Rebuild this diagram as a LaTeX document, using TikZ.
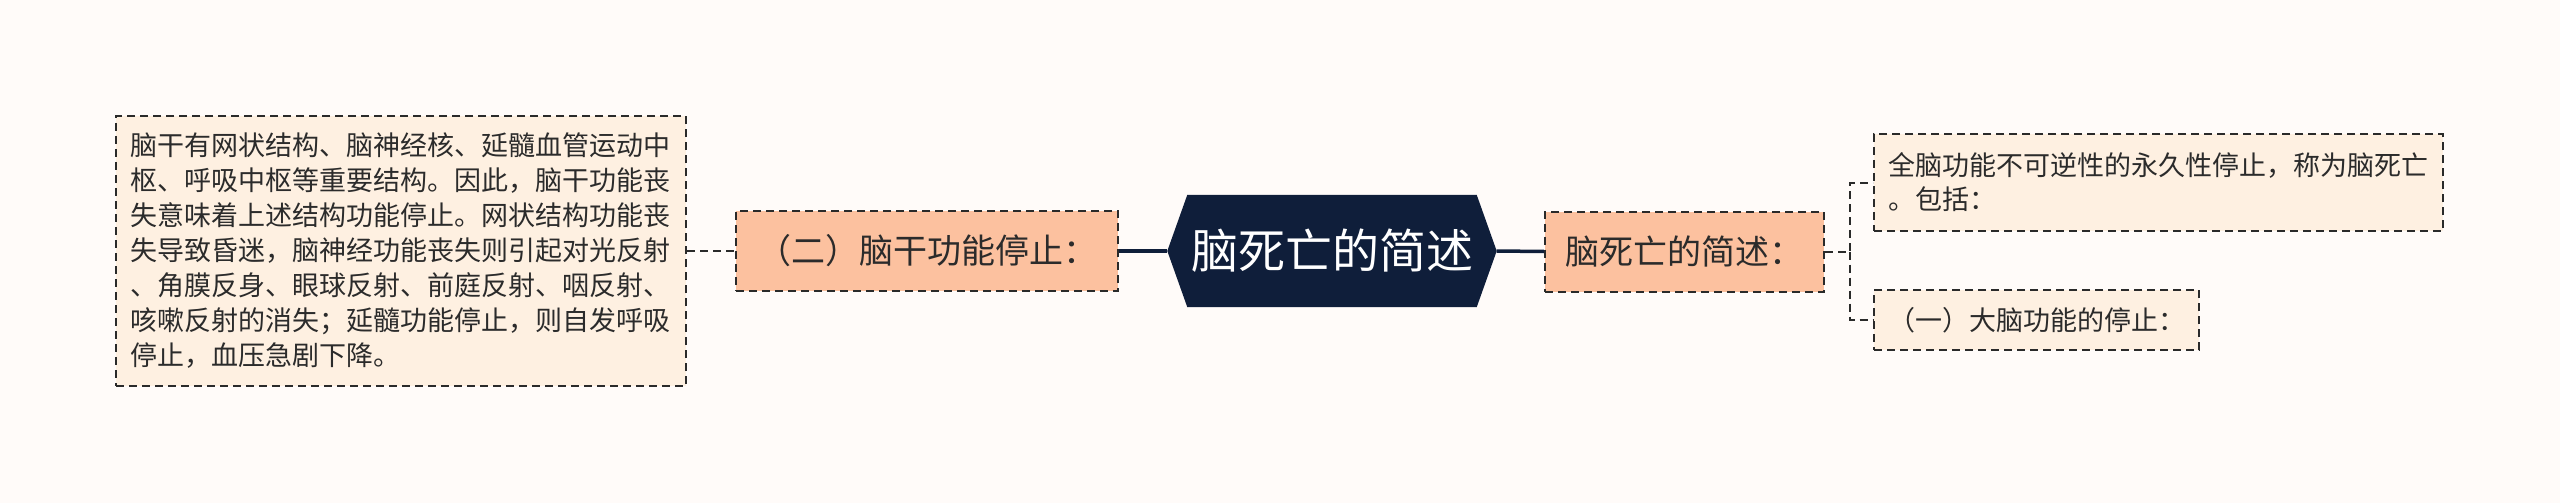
\documentclass[tikz,border=0pt]{standalone}
\usepackage{fontspec}
\setmainfont{Noto Sans CJK SC}
\usetikzlibrary{backgrounds}
\definecolor{bgc}{HTML}{FFFBF9}
\definecolor{cream}{HTML}{FEF0E1}
\definecolor{salmon}{HTML}{FCC19F}
\definecolor{navy}{HTML}{0F1E3A}
\definecolor{edgec}{HTML}{2A2A2A}
\definecolor{txt}{HTML}{2B2B2B}
\begin{document}
\begin{tikzpicture}[x=1pt,y=-1pt,
  dbox/.style={draw=edgec, line width=2pt, dash pattern=on 8pt off 5pt, inner sep=0pt, anchor=center, text=txt},
  smallbox/.style={dbox, fill=cream, font=\fontsize{27}{34}\selectfont, align=left},
  midbox/.style={dbox, fill=salmon, font=\fontsize{34}{40}\selectfont},
  dashc/.style={draw=edgec, line width=2pt, dash pattern=on 8pt off 5pt},
  solidc/.style={draw=navy, line width=3.5pt}
]
\useasboundingbox (0,0) rectangle (2560,503);
\begin{scope}[on background layer]
  \fill[bgc] (0,0) rectangle (2560,503);
\end{scope}

\node[smallbox, minimum width=570pt, minimum height=270pt, text width=542pt, font=\fontsize{27}{35}\selectfont] (lb) at (401,251)
  {脑干有网状结构、脑神经核、延髓血管运动中\\
   枢、呼吸中枢等重要结构。因此，脑干功能丧\\
   失意味着上述结构功能停止。网状结构功能丧\\
   失导致昏迷，脑神经功能丧失则引起对光反射\\
   、角膜反身、眼球反射、前庭反射、咽反射、\\
   咳嗽反射的消失；延髓功能停止，则自发呼吸\\
   停止，血压急剧下降。};

\node[midbox, minimum width=382pt, minimum height=80pt] (n2) at (927,251) {（二）脑干功能停止：};

\node[anchor=center, inner sep=0pt, minimum width=329pt, minimum height=112pt, text=white, font=\fontsize{47}{52}\selectfont] (hub) at (1332,251) {脑死亡的简述};
\begin{scope}[on background layer]
  \fill[navy] (hub.west) -- ([xshift=20pt]hub.north west) -- ([xshift=-20pt]hub.north east) -- (hub.east) -- ([xshift=-20pt]hub.south east) -- ([xshift=20pt]hub.south west) -- cycle;
\end{scope}

\node[midbox, minimum width=279pt, minimum height=80pt] (rn) at (1684.5,251.5) {脑死亡的简述：};

\node[smallbox, minimum width=569pt, minimum height=97pt, text width=541pt] (tr) at (2158.5,182.5)
  {全脑功能不可逆性的永久性停止，称为脑死亡\\。包括：};

\node[smallbox, minimum width=325pt, minimum height=60pt] (br) at (2036.5,320) {（一）大脑功能的停止：};

\draw[dashc] (lb.east) -- (n2.west);
\draw[solidc] (n2.east) -- (hub.west);
\draw[solidc] (hub.east) -- (rn.west);
\coordinate (fork) at ([xshift=25pt]rn.east);
\draw[dashc] (rn.east) -- (fork) |- (tr.west);
\draw[dashc] (fork) |- (br.west);
\end{tikzpicture}
\end{document}
